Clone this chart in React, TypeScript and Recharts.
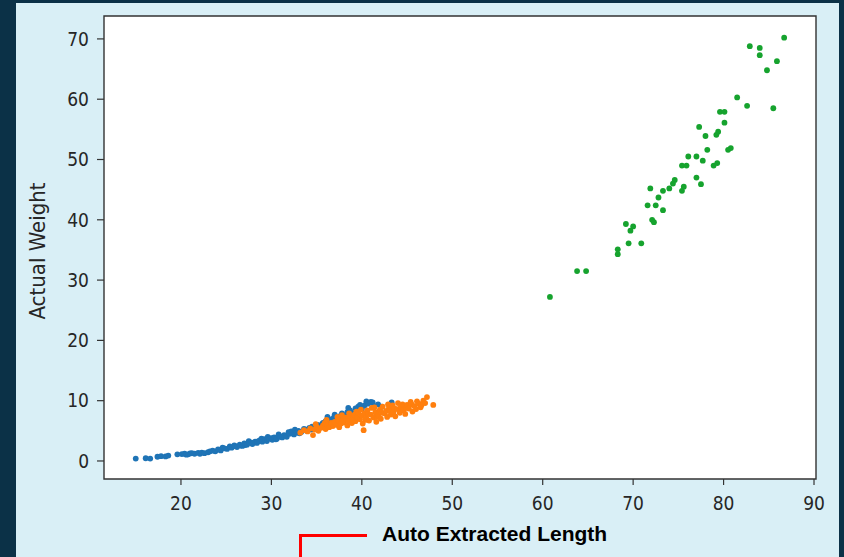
import React from 'react';
import { ScatterChart, Scatter, XAxis, YAxis, CartesianGrid, ReferenceArea } from 'recharts';

// colours
const BG_DARK = '#0b3147';
const PANEL = '#d9eff6';
const AXIS = '#333333';
const TEXT = '#262626';

const xTicks = [20, 30, 40, 50, 60, 70, 80, 90];
const yTicks = [0, 10, 20, 30, 40, 50, 60, 70];
const xDomain = [11.49, 90.22];
const yDomain = [-2.99, 73.8];

// [length, weight]
const bluePoints = [
  [15.0, 0.4], [16.1, 0.45], [16.6, 0.4], [17.4, 0.7], [17.8, 0.8], [18.3, 0.75], [18.6, 0.9],
  [19.6, 1.1], [20.1, 1.15], [20.4, 1.2], [20.6, 1.05], [20.8, 1.1], [21.0, 1.25], [21.2, 1.3],
  [21.5, 1.2], [21.9, 1.35], [22.1, 1.2], [22.3, 1.4], [22.6, 1.3], [23.0, 1.45], [23.2, 1.6],
  [23.5, 1.7], [23.8, 1.6], [24.1, 1.9], [24.4, 1.75], [24.6, 2.2], [24.8, 2.1], [25.1, 2.0],
  [25.4, 2.4], [25.6, 2.2], [25.9, 2.6], [26.0, 2.45], [26.2, 2.3], [26.5, 2.7], [26.6, 2.55],
  [26.8, 2.5], [27.0, 2.9], [27.1, 2.65], [27.3, 2.7], [27.5, 3.3], [27.6, 3.0], [27.8, 3.05],
  [27.9, 2.8], [28.2, 3.2], [28.4, 3.0], [28.5, 3.25], [28.7, 3.4], [28.9, 3.7], [29.0, 3.2],
  [29.2, 3.6], [29.3, 3.45], [29.5, 3.3], [29.6, 4.0], [29.8, 3.7], [30.0, 3.8], [30.1, 3.5],
  [30.3, 3.9], [30.5, 3.6], [30.6, 3.7], [30.8, 4.4], [30.9, 4.1], [31.0, 4.0], [31.2, 3.9],
  [31.4, 4.3], [31.6, 4.2], [31.7, 4.0], [31.9, 4.8], [32.0, 4.5], [32.2, 4.9], [32.3, 4.6],
  [32.5, 4.4], [32.6, 5.2], [32.8, 4.7], [33.0, 5.0], [33.1, 4.6], [33.3, 4.8], [33.6, 5.3],
  [33.8, 5.2], [33.9, 5.0], [34.2, 5.5], [34.4, 5.2], [34.5, 5.7], [34.8, 5.4], [35.0, 5.6],
  [35.1, 6.0], [35.4, 5.8], [35.6, 6.1], [35.7, 6.3], [36.0, 6.6], [36.2, 7.3], [36.3, 6.2],
  [36.6, 6.9], [36.9, 7.2], [37.0, 7.7], [37.2, 6.8], [37.5, 7.4], [37.8, 7.9], [38.1, 7.5],
  [38.4, 8.1], [38.5, 8.8], [38.7, 8.4], [39.0, 7.9], [39.3, 8.7], [39.6, 9.0], [39.8, 9.3],
  [40.0, 8.6], [40.3, 9.2], [40.5, 9.9], [40.7, 9.5], [41.0, 9.8], [41.2, 9.7], [41.4, 9.1],
  [41.8, 9.4], [42.2, 9.0], [43.3, 9.7],
];

const orangePoints = [
  [33.2, 4.7], [33.6, 5.1], [34.0, 4.9], [34.3, 5.4], [34.6, 4.3], [34.8, 5.2], [34.9, 6.1],
  [35.0, 5.6], [35.2, 5.0], [35.5, 5.5], [35.7, 5.9], [35.9, 6.3], [36.0, 5.3], [36.1, 6.8],
  [36.2, 6.0], [36.4, 5.6], [36.6, 6.3], [36.8, 5.8], [37.0, 6.5], [37.2, 6.0], [37.3, 7.3],
  [37.4, 6.7], [37.5, 5.6], [37.7, 6.2], [37.8, 7.6], [37.9, 6.9], [38.0, 6.4], [38.2, 7.2],
  [38.3, 6.9], [38.4, 5.9], [38.5, 6.7], [38.6, 7.9], [38.7, 7.4], [38.9, 6.3], [39.0, 7.0],
  [39.2, 7.7], [39.3, 6.6], [39.4, 8.2], [39.5, 7.2], [39.6, 8.0], [39.8, 6.9], [39.9, 8.5],
  [40.0, 7.5], [40.1, 6.2], [40.2, 5.1], [40.3, 7.9], [40.4, 6.8], [40.5, 7.1], [40.6, 8.4],
  [40.7, 7.8], [40.8, 6.7], [41.0, 7.7], [41.1, 8.8], [41.3, 7.2], [41.4, 8.9], [41.5, 8.1],
  [41.6, 6.5], [41.7, 7.3], [41.8, 7.6], [41.9, 8.2], [42.0, 8.5], [42.1, 7.0], [42.2, 8.0],
  [42.3, 9.0], [42.5, 7.9], [42.7, 8.3], [42.8, 7.3], [42.9, 9.4], [43.0, 8.8], [43.1, 8.4],
  [43.2, 7.7], [43.4, 9.2], [43.5, 8.1], [43.6, 8.7], [43.7, 7.4], [43.9, 8.6], [44.0, 9.6],
  [44.2, 8.0], [44.3, 8.9], [44.4, 9.0], [44.5, 9.4], [44.6, 8.4], [44.8, 7.8], [44.9, 8.8],
  [45.0, 9.3], [45.2, 8.7], [45.4, 9.8], [45.5, 9.4], [45.6, 8.2], [45.8, 9.1], [46.0, 8.6],
  [46.1, 9.9], [46.3, 9.5], [46.5, 8.9], [46.6, 9.3], [46.8, 10.0], [47.0, 9.6], [47.2, 10.6],
  [47.9, 9.3],
];

const greenPoints = [
  [60.8, 27.2], [63.8, 31.5], [64.8, 31.5], [68.3, 35.1], [68.3, 34.3], [69.5, 36.1], [70.9, 36.1],
  [69.2, 39.3], [70.0, 38.9], [69.7, 38.2], [72.1, 40.0], [72.3, 39.6], [71.6, 42.4], [72.5, 42.4],
  [73.3, 41.6], [71.9, 45.2], [72.8, 43.7], [73.3, 44.8], [74.0, 45.2], [74.6, 46.6], [74.4, 46.0],
  [75.4, 44.8], [75.6, 45.5], [75.4, 49.0], [75.9, 49.0], [76.1, 50.5], [77.0, 50.5], [77.0, 47.0],
  [77.5, 45.9], [77.7, 49.8], [78.2, 51.6], [77.3, 55.4], [78.0, 53.9], [78.9, 49.0], [79.3, 49.4],
  [79.2, 54.1], [79.4, 54.6], [79.6, 57.9], [80.1, 57.9], [80.1, 56.1], [80.5, 51.6], [80.8, 51.9],
  [81.5, 60.3], [82.6, 58.9], [82.9, 68.8], [84.0, 68.5], [84.0, 67.3], [84.8, 64.8], [85.9, 66.3],
  [85.5, 58.5], [86.7, 70.2],
];

const toRows = (pts: number[][]) => pts.map(([length, weight]) => ({ length, weight }));

const dot = (props: any) => <circle cx={props.cx} cy={props.cy} r={2.9} fill={props.fill} />;

const tickStyle = { fill: TEXT, fontSize: 19, fontFamily: '"DejaVu Sans Condensed", "DejaVu Sans", sans-serif' };

const App: React.FC = () => {
  return (
    <div style={{ position: 'absolute', left: 0, top: 0, width: 844, height: 557, background: BG_DARK, overflow: 'hidden' }}>
      <div style={{ position: 'absolute', left: 16, top: 3, width: 823, height: 554, background: PANEL }} />

      <div style={{ position: 'absolute', left: 0, top: 0 }}>
        <ScatterChart width={844} height={557} margin={{ top: 16, right: 28, bottom: 48, left: 44 }}>
          <CartesianGrid fill="#ffffff" horizontal={false} vertical={false} />
          <XAxis
            type="number"
            dataKey="length"
            domain={xDomain}
            ticks={xTicks}
            allowDataOverflow
            height={30}
            axisLine={false}
            tickLine={{ stroke: AXIS, strokeWidth: 1.2 }}
            tickSize={6}
            tickMargin={12}
            tick={tickStyle}
          />
          <YAxis
            type="number"
            dataKey="weight"
            domain={yDomain}
            ticks={yTicks}
            allowDataOverflow
            width={60}
            axisLine={false}
            tickLine={{ stroke: AXIS, strokeWidth: 1.2 }}
            tickSize={7}
            tickMargin={8}
            tick={tickStyle}
          />
          <Scatter data={toRows(bluePoints)} fill="#1f74b6" shape={dot} isAnimationActive={false} />
          <Scatter data={toRows(orangePoints)} fill="#ff7f0e" shape={dot} isAnimationActive={false} />
          <Scatter data={toRows(greenPoints)} fill="#16a32e" shape={dot} isAnimationActive={false} />
          <ReferenceArea
            x1={xDomain[0]}
            x2={xDomain[1]}
            y1={yDomain[0]}
            y2={yDomain[1]}
            fill="none"
            stroke={AXIS}
            strokeWidth={1.4}
            ifOverflow="visible"
          />
        </ScatterChart>
      </div>

      {/* y axis title */}
      <div
        style={{
          position: 'absolute',
          left: 38 - 100,
          top: 251 - 14,
          width: 200,
          height: 28,
          lineHeight: '28px',
          textAlign: 'center',
          transform: 'rotate(-90deg)',
          fontFamily: '"DejaVu Sans Condensed", "DejaVu Sans", sans-serif',
          fontSize: 22,
          color: TEXT,
        }}
      >
        Actual Weight
      </div>

      {/* red bracket annotation */}
      <div style={{ position: 'absolute', left: 299, top: 534, width: 68, height: 3, background: '#ff0000' }} />
      <div style={{ position: 'absolute', left: 299, top: 534, width: 3, height: 30, background: '#ff0000' }} />
      <div
        style={{
          position: 'absolute',
          left: 382,
          top: 522,
          fontFamily: '"Liberation Sans", Arial, sans-serif',
          fontWeight: 700,
          fontSize: 21,
          lineHeight: '24px',
          color: '#000',
        }}
      >
        Auto Extracted Length
      </div>
    </div>
  );
};

export default App;
